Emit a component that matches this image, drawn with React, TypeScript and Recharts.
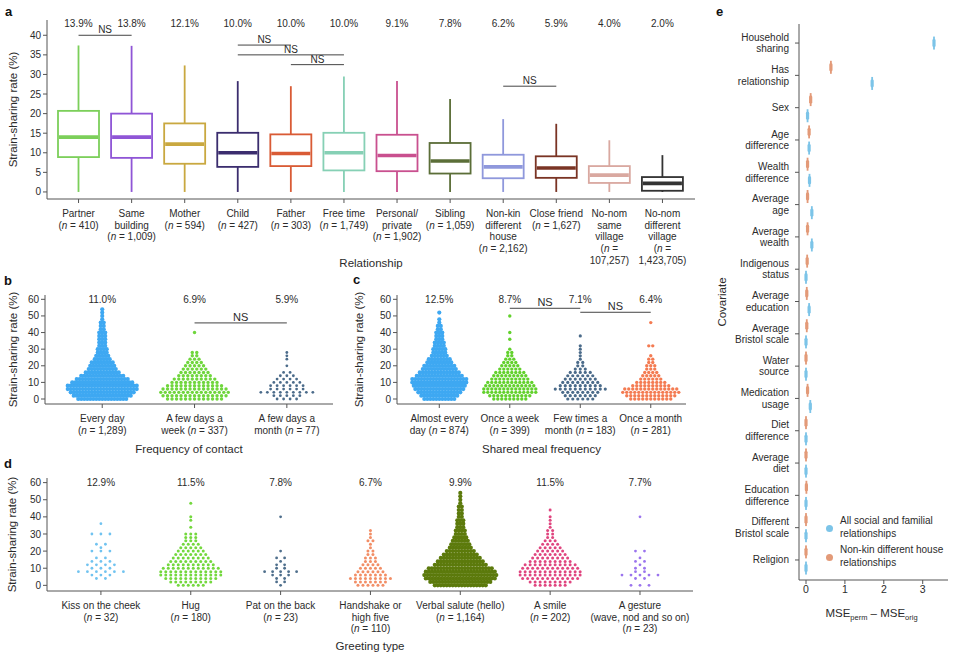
import React from 'react';
import { ComposedChart, ScatterChart, Bar, Scatter, XAxis, YAxis, ReferenceLine } from 'recharts';

const FONT = '"Liberation Sans", Arial, Helvetica, sans-serif';
const INK = '#2b2b2b';
const AXIS = '#555';
const ROW_STEP = 2; // swarm rows every 2 percentage points

// ---------- a: relationship ----------
const relNames = ['Partner', 'Same building', 'Mother', 'Child', 'Father', 'Free time', 'Personal/private', 'Sibling', 'Non-kin different house', 'Close friend', 'No-nom same village', 'No-nom different village'];
const relTicks = [
  ['Partner', '({n} = 410)'],
  ['Same', 'building', '({n} = 1,009)'],
  ['Mother', '({n} = 594)'],
  ['Child', '({n} = 427)'],
  ['Father', '({n} = 303)'],
  ['Free time', '({n} = 1,749)'],
  ['Personal/', 'private', '({n} = 1,902)'],
  ['Sibling', '({n} = 1,059)'],
  ['Non-kin', 'different', 'house', '({n} = 2,162)'],
  ['Close friend', '({n} = 1,627)'],
  ['No-nom', 'same', 'village', '({n} =', '107,257)'],
  ['No-nom', 'different', 'village', '({n} =', '1,423,705)'],
];
const relMin = [0, 0, 0, 0, 0, 0, 0, 0, 0, 0, 0, 0];
const relQ1 = [8.9, 8.7, 7.2, 6.4, 6.6, 5.5, 5.3, 4.7, 3.5, 3.6, 2.3, 0.3];
const relMedian = [14.0, 14.0, 12.2, 10.0, 9.8, 10.0, 9.3, 7.9, 6.4, 6.1, 4.3, 2.2];
const relQ3 = [20.7, 20.0, 17.5, 15.1, 14.7, 15.1, 14.6, 12.5, 9.5, 9.1, 6.6, 3.8];
const relMax = [37.4, 37.3, 32.3, 28.3, 27.0, 29.5, 28.3, 23.7, 18.6, 17.4, 13.2, 9.4];
const relRates = ['13.9%', '13.8%', '12.1%', '10.0%', '10.0%', '10.0%', '9.1%', '7.8%', '6.2%', '5.9%', '4.0%', '2.0%'];
const relNS: [string, string, number][] = [
  ['Partner', 'Same building', 40],
  ['Child', 'Father', 37.5],
  ['Child', 'Free time', 35],
  ['Father', 'Free time', 32.5],
  ['Non-kin different house', 'Close friend', 27],
];
const relColors = ['#7ccf5a', '#8f55d6', '#c9a840', '#3b2d6e', '#d95b35', '#86d0b5', '#c9508f', '#5b6e38', '#8f98dc', '#7a3424', '#d9a8a0', '#333333'];

// ---------- b: frequency of contact ----------
const contactTicks = [['Every day', '({n} = 1,289)'], ['A few days a', 'week ({n} = 337)'], ['A few days a', 'month ({n} = 77)']];
const contactRates = ['11.0%', '6.9%', '5.9%'];
const contactRows = [
  [17, 20, 22, 24, 24, 21, 18, 15, 12, 10, 9, 8, 6, 5, 4, 4, 3, 3, 3, 3, 3, 2, 2, 2, 1, 1, 1, 1],
  [13, 15, 16, 15, 13, 11, 10, 8, 7, 6, 5, 4, 3, 2, 2, 0, 0, 0, 0, 0, 1],
  [4, 5, 9, 6, 6, 5, 4, 3, 2, 0, 1, 0, 1, 1, 1],
];
const contactNS: [number, number, number][] = [[1, 2, 45.8]];
const contactColors = ['#3ea8f2', '#6fd63c', '#4b6b8a'];

// ---------- c: shared meal frequency ----------
const mealTicks = [['Almost every', 'day ({n} = 874)'], ['Once a week', '({n} = 399)'], ['Few times a', 'month ({n} = 183)'], ['Once a month', '({n} = 281)']];
const mealRates = ['12.5%', '8.7%', '7.1%', '6.4%'];
const mealRows = [
  [11, 13, 15, 17, 18, 19, 19, 16, 14, 12, 11, 9, 8, 6, 5, 5, 4, 4, 3, 3, 3, 2, 2, 1, 1, 0, 1],
  [9, 11, 14, 14, 13, 12, 10, 9, 8, 6, 5, 4, 3, 2, 2, 1, 0, 0, 1, 0, 1, 0, 0, 0, 0, 1],
  [6, 7, 8, 11, 9, 8, 7, 6, 5, 3, 2, 2, 1, 1, 1, 1, 1, 0, 0, 1],
  [11, 13, 15, 14, 10, 8, 6, 5, 4, 3, 3, 2, 2, 1, 0, 0, 2, 0, 0, 0, 0, 0, 0, 1],
];
const mealNS: [number, number, number][] = [[1, 2, 54.6], [2, 3, 52.2]];
const mealColors = ['#3ea8f2', '#62d12c', '#4b6b8a', '#f47b52'];

// ---------- d: greeting type ----------
const greetTicks = [
  ['Kiss on the cheek', '({n} = 32)'],
  ['Hug', '({n} = 180)'],
  ['Pat on the back', '({n} = 23)'],
  ['Handshake or', 'high five', '({n} = 110)'],
  ['Verbal salute (hello)', '({n} = 1,164)'],
  ['A smile', '({n} = 202)'],
  ['A gesture', '(wave, nod and so on)', '({n} = 23)'],
];
const greetRates = ['12.9%', '11.5%', '7.8%', '6.7%', '9.9%', '11.5%', '7.7%'];
const greetRows = [
  [0, 0, 2, 3, 6, 3, 4, 3, 2, 0, 3, 1, 2, 0, 0, 3, 0, 0, 1],
  [6, 9, 11, 13, 13, 12, 10, 9, 8, 7, 6, 5, 4, 3, 3, 3, 0, 1, 0, 1, 1, 0, 0, 0, 1],
  [1, 2, 2, 3, 5, 2, 2, 1, 2, 0, 1, 0, 0, 0, 0, 0, 0, 0, 0, 0, 1],
  [6, 7, 9, 7, 6, 5, 4, 3, 3, 2, 2, 1, 1, 2, 1, 1, 1],
  [18, 21, 24, 25, 24, 22, 18, 16, 14, 12, 10, 8, 7, 6, 5, 4, 4, 3, 3, 3, 2, 2, 2, 2, 1, 1, 1, 1],
  [7, 9, 12, 13, 13, 12, 11, 9, 8, 7, 6, 5, 4, 3, 2, 2, 2, 1, 1, 1, 1, 0, 1],
  [3, 0, 2, 5, 2, 2, 1, 2, 1, 0, 2, 0, 0, 0, 0, 0, 0, 0, 0, 0, 1],
];
const greetColors = ['#71c3f0', '#74d83e', '#4f6f8c', '#f28e66', '#5c7a0c', '#e0457f', '#9b74ee'];

// ---------- e: covariates ----------
const covTicks = [
  ['Household', 'sharing'], ['Has', 'relationship'], ['Sex'], ['Age', 'difference'], ['Wealth', 'difference'],
  ['Average', 'age'], ['Average', 'wealth'], ['Indigenous', 'status'], ['Average', 'education'], ['Average', 'Bristol scale'],
  ['Water', 'source'], ['Medication', 'usage'], ['Diet', 'difference'], ['Average', 'diet'], ['Education', 'difference'],
  ['Different', 'Bristol scale'], ['Religion'],
];
const allMse = [3.29, 1.7, 0.04, 0.08, 0.09, 0.15, 0.15, 0.0, 0.08, 0.0, 0.0, 0.11, 0.0, 0.0, 0.0, 0.0, 0.0];
const nonKinMse = [null, 0.64, 0.12, 0.08, 0.04, 0.04, 0.04, 0.03, 0.02, 0.02, 0.0, 0.04, 0.0, 0.0, 0.01, 0.0, 0.0];
const covColors = { all: '#7cc4e8', nonKin: '#e39a78' };

// ---------- helpers ----------
const withN = (line: string) => {
  const parts = line.split('{n}');
  const out: any[] = [];
  parts.forEach((p, i) => {
    if (i > 0) out.push(<tspan key={'n' + i} fontStyle="italic">n</tspan>);
    if (p) out.push(<tspan key={'p' + i}>{p}</tspan>);
  });
  return out;
};

const MultiTick = ({ x, y, lines }: any) => (
  <text x={x} y={y} textAnchor="middle" fontSize={10} fill={INK} fontFamily={FONT}>
    {lines.map((ln: string, i: number) => (
      <tspan key={i} x={x} dy={i === 0 ? 11.6 : 11.9}>{withN(ln)}</tspan>
    ))}
  </text>
);

const yTitle = (text: string, x: number) => (props: any) => {
  const vb = props.viewBox;
  const cy = vb.y + vb.height / 2;
  return (
    <text transform={`translate(${x},${cy}) rotate(-90)`} textAnchor="middle" dy="0.35em" fontSize={11.5} fill={INK} fontFamily={FONT}>
      {text}
    </text>
  );
};

const xTitle = (text: string, off: number) => (props: any) => {
  const vb = props.viewBox;
  return (
    <text x={vb.x + vb.width / 2} y={vb.y + off} dy="0.35em" textAnchor="middle" fontSize={11.5} fill={INK} fontFamily={FONT}>
      {text}
    </text>
  );
};

const buildSwarm = (counts: number[], gi: number, gapPx: number, bandPx: number) => {
  const pts: { x: number; y: number }[] = [];
  counts.forEach((c, k) => {
    for (let j = 0; j < c; j++) {
      pts.push({ x: gi + ((j - (c - 1) / 2) * gapPx) / bandPx, y: k * ROW_STEP });
    }
  });
  return pts;
};

// ---------- panel a ----------
const relData = relNames.map((name, i) => ({
  name, min: relMin[i], q1: relQ1[i], median: relMedian[i], q3: relQ3[i], max: relMax[i], rate: relRates[i], color: relColors[i],
}));

const BoxShape = (props: any) => {
  const { x, y, width, height, index } = props;
  const d = props.payload && props.payload.q1 !== undefined ? props.payload : relData[index];
  const top = Math.min(y, y + height);
  const bot = Math.max(y, y + height);
  const py = (v: number) => bot - ((v - d.min) / (d.max - d.min)) * (bot - top);
  const cx = x + width / 2;
  const c = d.color;
  return (
    <g>
      <line x1={cx} x2={cx} y1={py(d.max)} y2={py(d.q3)} stroke={c} strokeWidth={1.8} />
      <line x1={cx} x2={cx} y1={py(d.q1)} y2={py(d.min)} stroke={c} strokeWidth={1.8} />
      <rect x={x} y={py(d.q3)} width={width} height={py(d.q1) - py(d.q3)} fill="#fff" stroke={c} strokeWidth={1.8} />
      <line x1={x + 1} x2={x + width - 1} y1={py(d.median)} y2={py(d.median)} stroke={c} strokeWidth={3.6} />
      <text x={cx} y={py(43)} dy="0.35em" textAnchor="middle" fontSize={10} fill={INK} fontFamily={FONT}>{d.rate}</text>
    </g>
  );
};

const RelationshipChart = () => (
  <ComposedChart width={710} height={275} data={relData} margin={{ top: 20, right: 15, bottom: 16, left: 0 }}>
    <XAxis
      dataKey="name"
      type="category"
      interval={0}
      height={60}
      padding={{ left: 5, right: 6 }}
      tickSize={4}
      stroke={AXIS}
      tick={(p: any) => <MultiTick x={p.x} y={p.y} lines={relTicks[relNames.indexOf(p.payload.value)]} />}
      label={xTitle('Relationship', 64)}
    />
    <YAxis
      type="number"
      domain={[-1.8, 43.9]}
      ticks={[0, 5, 10, 15, 20, 25, 30, 35, 40]}
      width={47}
      tickSize={4}
      stroke={AXIS}
      tick={{ fontSize: 10, fill: INK, fontFamily: FONT }}
      label={yTitle('Strain-sharing rate (%)', 13)}
    />
    <Bar dataKey={(d: any) => [d.min, d.max]} barSize={41} shape={BoxShape} isAnimationActive={false} />
    {relNS.map(([a, b, v], i) => (
      <ReferenceLine
        key={i}
        segment={[{ x: a, y: v }, { x: b, y: v }]}
        stroke="#444"
        strokeWidth={1}
        label={{ value: 'NS', position: 'top', offset: 2, fontSize: 10, fill: INK, fontFamily: FONT }}
      />
    ))}
  </ComposedChart>
);

// ---------- swarm panels (b, c, d) ----------
const SwarmChart = ({ width, height, margin, yAxisWidth, xDomain, yDomain, ticks, rates, rows, colors, gaps, radii, ns, title, titleOff, yTitleX, xAxisHeight, nsOffset, nsSize }: any) => {
  const plotW = width - margin.left - margin.right - yAxisWidth;
  const bandPx = plotW / (xDomain[1] - xDomain[0]);
  const idx = ticks.map((_: any, i: number) => i);
  const rateData = rates.map((t: string, i: number) => ({ x: i, y: 60, t }));
  return (
    <ScatterChart width={width} height={height} margin={margin}>
      <XAxis
        dataKey="x"
        type="number"
        domain={xDomain}
        allowDataOverflow
        ticks={idx}
        interval={0}
        height={xAxisHeight}
        tickSize={4}
        stroke={AXIS}
        tick={(p: any) => <MultiTick x={p.x} y={p.y} lines={ticks[Math.round(p.payload.value)]} />}
        label={xTitle(title, titleOff)}
      />
      <YAxis
        dataKey="y"
        type="number"
        domain={yDomain}
        allowDataOverflow
        ticks={[0, 10, 20, 30, 40, 50, 60]}
        width={yAxisWidth}
        tickSize={4}
        stroke={AXIS}
        tick={{ fontSize: 10, fill: INK, fontFamily: FONT }}
        label={yTitle('Strain-sharing rate (%)', yTitleX)}
      />
      {rows.map((counts: number[], gi: number) => (
        <Scatter
          key={gi}
          data={buildSwarm(counts, gi, gaps[gi], bandPx)}
          isAnimationActive={false}
          shape={(p: any) => <circle cx={p.cx} cy={p.cy} r={radii[gi]} fill={colors[gi]} />}
        />
      ))}
      <Scatter
        data={rateData}
        isAnimationActive={false}
        shape={(p: any) => (
          <text x={p.cx} y={p.cy} dy="0.35em" textAnchor="middle" fontSize={10} fill={INK} fontFamily={FONT}>
            {(p.payload && p.payload.t) || ''}
          </text>
        )}
      />
      {ns.map(([a, b, v]: number[], i: number) => (
        <ReferenceLine
          key={i}
          segment={[{ x: a, y: v }, { x: b, y: v }]}
          stroke="#444"
          strokeWidth={1}
          label={{ value: 'NS', position: 'top', offset: nsOffset, fontSize: nsSize, fill: INK, fontFamily: FONT }}
        />
      ))}
    </ScatterChart>
  );
};

// ---------- panel e ----------
const covRowsAll = allMse.map((v, i) => ({ x: v, y: i + (nonKinMse[i] == null ? 0 : 0.25) }));
const covRowsNonKin = nonKinMse
  .map((v, i) => (v == null ? null : { x: v, y: i - 0.25 }))
  .filter((d) => d !== null);

const Dash = (color: string) => (p: any) => (
  <g>
    <rect x={p.cx - 0.9} y={p.cy - 6.5} width={1.8} height={13} fill={color} />
    <rect x={p.cx - 1.6} y={p.cy - 4} width={3.2} height={8} rx={1.4} fill={color} />
  </g>
);

const CovTick = ({ x, y, payload }: any) => {
  const lines = covTicks[Math.round(payload.value)] || [];
  const start = -((lines.length - 1) * 11.5) / 2;
  return (
    <text x={x} y={y} textAnchor="end" fontSize={10} fill={INK} fontFamily={FONT}>
      {lines.map((ln: string, i: number) => (
        <tspan key={i} x={x} y={y + start + i * 11.5} dy="0.35em">{ln}</tspan>
      ))}
    </text>
  );
};

const CovariateChart = () => (
  <ScatterChart width={260} height={662} margin={{ top: 24, right: 12, bottom: 52, left: 0 }}>
    <XAxis
      dataKey="x"
      type="number"
      domain={[-0.18, 3.65]}
      allowDataOverflow
      ticks={[0, 1, 2, 3]}
      height={30}
      tickSize={4}
      stroke={AXIS}
      tick={{ fontSize: 10.5, fill: INK, fontFamily: FONT }}
      label={(props: any) => {
        const vb = props.viewBox;
        return (
          <text x={vb.x + vb.width / 2 - 2} y={vb.y + 33} dy="0.35em" textAnchor="middle" fontSize={11.5} fill={INK} fontFamily={FONT}>
            <tspan>MSE</tspan>
            <tspan fontSize={7.5} dy={3}>perm</tspan>
            <tspan dy={-3}> – MSE</tspan>
            <tspan fontSize={7.5} dy={3}>orig</tspan>
          </text>
        );
      }}
    />
    <YAxis
      dataKey="y"
      type="number"
      reversed
      domain={[-0.59, 16.62]}
      allowDataOverflow
      ticks={covTicks.map((_, i) => i)}
      interval={0}
      width={99}
      tickSize={4}
      tickMargin={6}
      stroke={AXIS}
      tick={<CovTick />}
      label={yTitle('Covariate', 22)}
    />
    <Scatter data={covRowsNonKin} isAnimationActive={false} shape={Dash(covColors.nonKin)} />
    <Scatter data={covRowsAll} isAnimationActive={false} shape={Dash(covColors.all)} />
  </ScatterChart>
);

const CovLegend = () => {
  const items = [
    { color: covColors.all, lines: ['All social and familial', 'relationships'], top: 515 },
    { color: covColors.nonKin, lines: ['Non-kin different house', 'relationships'], top: 544 },
  ];
  return (
    <>
      {items.map((it, i) => (
        <div key={i} style={{ position: 'absolute', left: 826, top: it.top, display: 'flex', alignItems: 'center', fontSize: 10, lineHeight: '12.5px', color: INK, fontFamily: FONT }}>
          <span style={{ width: 7, height: 7, borderRadius: '50%', background: it.color, marginRight: 7, marginTop: 1 }} />
          <span>
            {it.lines[0]}
            <br />
            {it.lines[1]}
          </span>
        </div>
      ))}
    </>
  );
};

const Letter = ({ ch, x, y }: any) => (
  <div style={{ position: 'absolute', left: x, top: y, fontSize: 13, fontWeight: 'bold', fontFamily: FONT, color: '#111', lineHeight: '14px' }}>{ch}</div>
);

export default function App() {
  return (
    <div style={{ position: 'absolute', left: 0, top: 0, width: 960, height: 662, background: '#fff', overflow: 'hidden', fontFamily: FONT }}>
      <div style={{ position: 'absolute', left: 0, top: 0 }}>
        <RelationshipChart />
      </div>
      <div style={{ position: 'absolute', left: 0, top: 270 }}>
        <SwarmChart
          width={340} height={190} margin={{ top: 25, right: 7, bottom: 16, left: 0 }} yAxisWidth={45} xAxisHeight={40}
          xDomain={[-0.62, 2.5]} yDomain={[-3, 62.6]}
          ticks={contactTicks} rates={contactRates} rows={contactRows} colors={contactColors}
          gaps={[3, 4.5, 6.5]} radii={[2.1, 1.7, 1.4]} ns={contactNS} nsOffset={1.5} nsSize={11}
          title="Frequency of contact" titleOff={45} yTitleX={13}
        />
      </div>
      <div style={{ position: 'absolute', left: 330, top: 270 }}>
        <SwarmChart
          width={370} height={190} margin={{ top: 25, right: 14, bottom: 16, left: 0 }} yAxisWidth={67} xAxisHeight={40}
          xDomain={[-0.6, 3.5]} yDomain={[-3, 62.6]}
          ticks={mealTicks} rates={mealRates} rows={mealRows} colors={mealColors}
          gaps={[3, 4, 5, 4]} radii={[2.1, 1.7, 1.6, 1.7]} ns={mealNS} nsOffset={2} nsSize={11}
          title="Shared meal frequency" titleOff={45} yTitleX={29}
        />
      </div>
      <div style={{ position: 'absolute', left: 0, top: 455 }}>
        <SwarmChart
          width={710} height={207} margin={{ top: 23, right: 17, bottom: 21, left: 0 }} yAxisWidth={47} xAxisHeight={50}
          xDomain={[-0.6, 6.59]} yDomain={[-3.3, 62.7]}
          ticks={greetTicks} rates={greetRates} rows={greetRows} colors={greetColors}
          gaps={[9, 5, 8, 5, 3, 5, 9]} radii={[1.4, 1.5, 1.4, 1.5, 2.1, 1.5, 1.4]} ns={[]} nsOffset={2} nsSize={11}
          title="Greeting type" titleOff={55} yTitleX={12}
        />
      </div>
      <div style={{ position: 'absolute', left: 700, top: 0 }}>
        <CovariateChart />
      </div>
      <CovLegend />
      <Letter ch="a" x={5} y={5} />
      <Letter ch="b" x={4} y={274} />
      <Letter ch="c" x={353} y={273} />
      <Letter ch="d" x={4} y={457} />
      <Letter ch="e" x={716} y={5} />
    </div>
  );
}
